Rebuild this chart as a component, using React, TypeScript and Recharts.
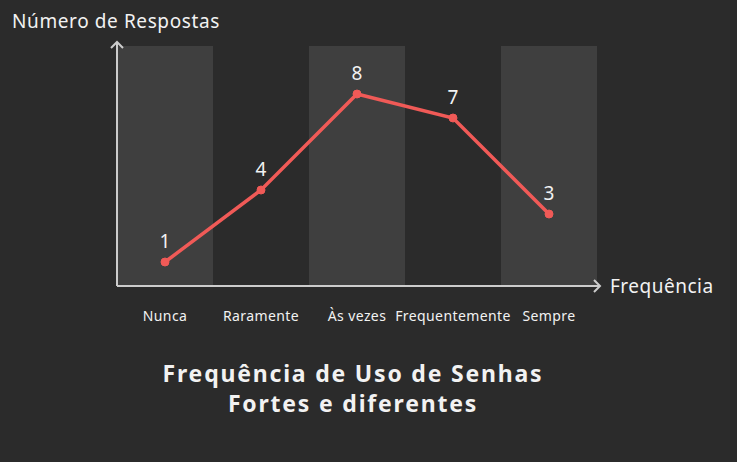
import React from 'react';
import { ComposedChart, Line, XAxis, YAxis, ReferenceArea, LabelList } from 'recharts';

const categories = ['Nunca', 'Raramente', 'Às vezes', 'Frequentemente', 'Sempre'];
const respostas = [1, 4, 8, 7, 3];
const yDomain: [number, number] = [0, 10];
const title = ['Frequência de Uso de Senhas', 'Fortes e diferentes'];
const xTitle = 'Frequência';
const yTitle = 'Número de Respostas';

const data = categories.map((c, i) => ({ name: c, value: respostas[i] }));

const BG = '#2b2b2b';
const BAND = '#3f3f3f';
const AXIS = '#cccccc';
const LINE = '#f05a57';
const TEXT = '#f2f2f2';
const FONT = '"Noto Sans", sans-serif';

const XLabel = (props: any) => {
  const { x, y, width } = props.viewBox;
  const ex = x + width + 3;
  return (
    <g>
      <line x1={x + width} y1={y} x2={ex} y2={y} stroke={AXIS} strokeWidth={2} />
      <polyline points={`${ex - 6},${y - 6} ${ex},${y} ${ex - 6},${y + 6}`} fill="none" stroke={AXIS} strokeWidth={2} />
      <text x={ex + 10} y={y} dominantBaseline="central" fill={TEXT} fontSize={19} letterSpacing={0.5} fontFamily={FONT}>{xTitle}</text>
    </g>
  );
};

const YLabel = (props: any) => {
  const { x, y, width } = props.viewBox;
  const ax = x + width;
  const ty = y - 4;
  return (
    <g>
      <line x1={ax} y1={y} x2={ax} y2={ty} stroke={AXIS} strokeWidth={2} />
      <polyline points={`${ax - 6},${ty + 6} ${ax},${ty} ${ax + 6},${ty + 6}`} fill="none" stroke={AXIS} strokeWidth={2} />
      <text x={12} y={21} dominantBaseline="central" fill={TEXT} fontSize={19} letterSpacing={0.6} fontFamily={FONT}>{yTitle}</text>
    </g>
  );
};

export default function App() {
  return (
    <div style={{ position: 'absolute', left: 0, top: 0, width: 737, height: 462, background: BG }}>
      <ComposedChart
        width={737}
        height={462}
        data={data}
        margin={{ top: 46, right: 140, bottom: 136, left: 57 }}
        barCategoryGap={0}
      >
        {categories.map((c, i) =>
          i % 2 === 0 ? (
            <ReferenceArea key={c} x1={c} x2={c} y1={yDomain[0]} y2={yDomain[1]} fill={BAND} fillOpacity={1} stroke="none" />
          ) : null
        )}
        <XAxis
          dataKey="name"
          type="category"
          scale="band"
          height={40}
          axisLine={{ stroke: AXIS, strokeWidth: 2 }}
          tickLine={false}
          tickSize={0}
          tickMargin={25}
          interval={0}
          tick={{ fill: TEXT, fontSize: 14, letterSpacing: 0.4, fontFamily: FONT }}
          label={<XLabel />}
        />
        <YAxis
          type="number"
          domain={yDomain}
          width={60}
          tick={false}
          tickLine={false}
          axisLine={{ stroke: AXIS, strokeWidth: 2 }}
          label={<YLabel />}
        />
        <Line
          dataKey="value"
          stroke={LINE}
          strokeWidth={3.5}
          dot={{ r: 4, fill: LINE, stroke: LINE, strokeWidth: 1 }}
          activeDot={false}
          isAnimationActive={false}
        >
          <LabelList dataKey="value" position="top" offset={14} fill={TEXT} fontSize={19} fontFamily={FONT} />
        </Line>
      </ComposedChart>
      <div
        style={{
          position: 'absolute',
          left: 0,
          width: 706,
          top: 358,
          textAlign: 'center',
          color: TEXT,
          fontFamily: FONT,
          fontWeight: 700,
          fontSize: 23,
          letterSpacing: 1.8,
          lineHeight: '30px',
        }}
      >
        {title.map((t) => (
          <div key={t}>{t}</div>
        ))}
      </div>
    </div>
  );
}
